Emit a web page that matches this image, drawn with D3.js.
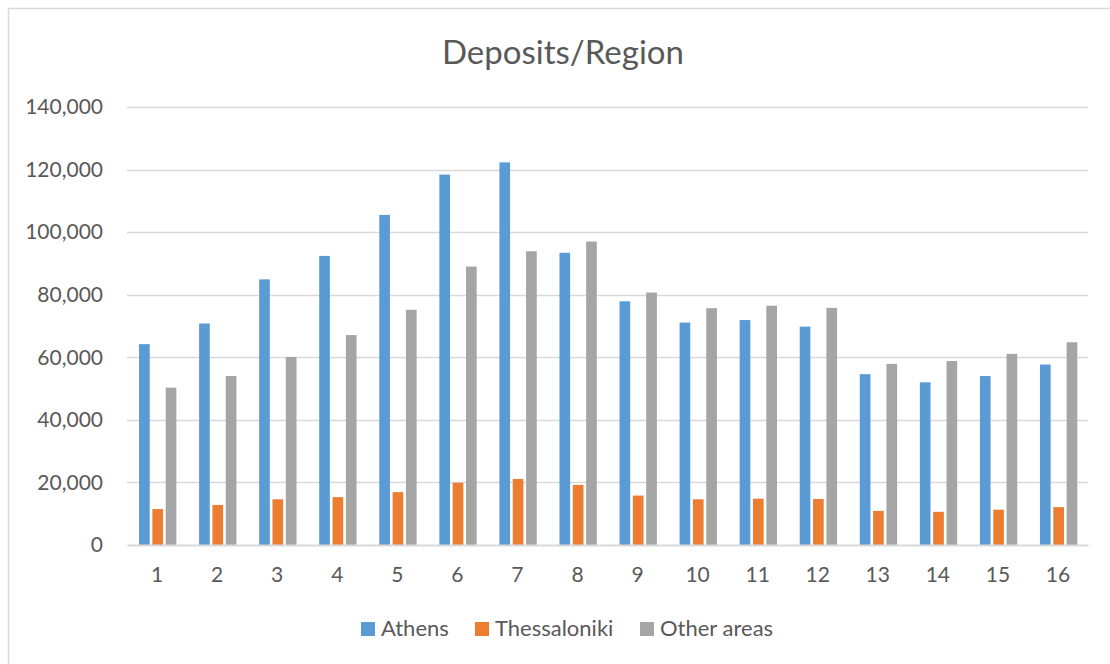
<!DOCTYPE html>
<html>
<head>
<meta charset="utf-8">
<script src="https://cdn.jsdelivr.net/npm/d3@7"></script>
<style>
html,body{margin:0;padding:0;background:#fff;}
svg{display:block;}
text{font-family:Lato,"Open Sans",sans-serif;fill:#595959;}
</style>
</head>
<body>
<svg id="chart" width="1110" height="664"></svg>
<script>
const categories = ["1","2","3","4","5","6","7","8","9","10","11","12","13","14","15","16"];
const seriesNames = ["Athens","Thessaloniki","Other areas"];
const athens = [64200,70800,84900,92400,105500,118400,122300,93400,77900,71100,71900,69800,54600,52000,54000,57700];
const thessaloniki = [11500,12800,14600,15300,16900,19900,21100,19200,15800,14600,14800,14700,10900,10600,11300,12100];
const otherAreas = [50300,54000,60100,67100,75200,89000,93900,97000,80700,75700,76500,75800,57900,58800,61100,64800];
const yTicks = [0,20000,40000,60000,80000,100000,120000,140000];
const colors = ["#5B9BD5","#ED7D31","#A5A5A5"];

const seriesValues = [athens, thessaloniki, otherAreas];
const svg = d3.select("#chart");

// outer frame
svg.append("rect").attr("x",8.5).attr("y",8.5).attr("width",1120).attr("height",680)
  .attr("fill","#fff").attr("stroke","#D9D9D9").attr("stroke-width",1.5);

const plotLeft = 127, plotRight = 1088, plotTop = 107, plotBottom = 545;
const x = d3.scaleBand().domain(categories).range([plotLeft, plotRight]).padding(0);
const xInner = d3.scaleBand().domain(seriesNames).range([10.7, 50.7]).paddingInner(0.2).paddingOuter(0.1);
const y = d3.scaleLinear().domain([0,140000]).range([plotBottom, plotTop]);

// gridlines
svg.append("g").selectAll("line").data(yTicks.filter(d=>d>0)).join("line")
  .attr("x1",plotLeft).attr("x2",plotRight)
  .attr("y1",d=>Math.round(y(d))+0.5).attr("y2",d=>Math.round(y(d))+0.5)
  .attr("stroke","#D9D9D9").attr("stroke-width",1.3);

// y axis labels
const yAxis = d3.axisLeft(y).tickValues(yTicks).tickSize(0).tickPadding(0)
  .tickFormat(d3.format(","));
const gy = svg.append("g").attr("transform",`translate(${plotLeft-24},0)`).call(yAxis);
gy.select(".domain").remove();
gy.selectAll("text").attr("font-size",21).style("fill","#595959").attr("font-family","Lato");

// bars
const data = [];
categories.forEach((c,i)=>{
  seriesNames.forEach((s,j)=>{ data.push({c, s, v: seriesValues[j][i], j}); });
});
svg.append("g").selectAll("rect").data(data).join("rect")
  .attr("x",d=>x(d.c)+xInner(d.s))
  .attr("width",xInner.bandwidth())
  .attr("y",d=>y(d.v))
  .attr("height",d=>y(0)-y(d.v))
  .attr("fill",d=>colors[d.j]);

// x axis
const xAxis = d3.axisBottom(x).tickSize(0).tickPadding(22);
const gx = svg.append("g").attr("transform",`translate(0,${plotBottom})`).call(xAxis);
gx.select(".domain").attr("stroke","#D9D9D9").attr("stroke-width",2);
gx.selectAll("text").attr("font-size",21).style("fill","#595959").attr("font-family","Lato");

// title
svg.append("text").attr("x",563).attr("y",64).attr("text-anchor","middle")
  .attr("font-size",33).text("Deposits/Region");

// legend
const legendX = [361, 475, 640];
const lg = svg.append("g").selectAll("g").data(seriesNames).join("g")
  .attr("transform",(d,i)=>`translate(${legendX[i]},0)`);
lg.append("rect").attr("x",0).attr("y",622).attr("width",14).attr("height",14)
  .attr("fill",(d,i)=>colors[i]);
lg.append("text").attr("x",20).attr("y",636).attr("font-size",22).text(d=>d);
</script>
</body>
</html>
